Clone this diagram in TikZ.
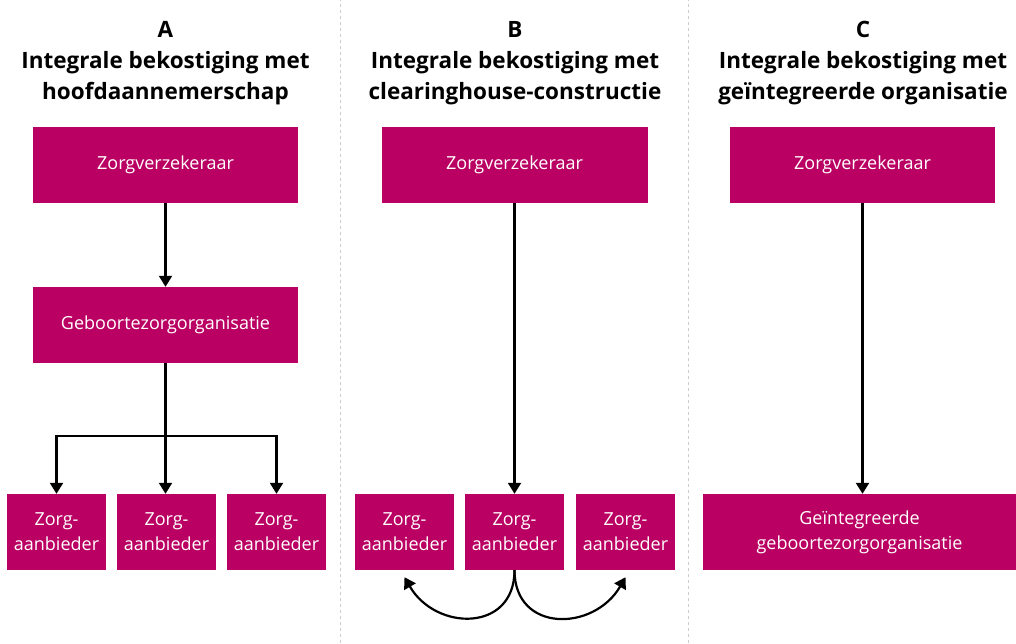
\documentclass[tikz,border=0pt]{standalone}
\usepackage{fontspec}
\setmainfont{Open Sans}
\usepackage{tikz}
\usetikzlibrary{arrows.meta}
\definecolor{zorgpaars}{RGB}{186,0,98}
\definecolor{scheiding}{RGB}{205,205,205}

\begin{document}
\begin{tikzpicture}[x=1pt,y=1pt,
        blok/.style={rectangle, fill=zorgpaars, text=white, inner sep=0pt,
            minimum height=76pt, align=center, font=\fontsize{18}{25}\selectfont},
        kop/.style={anchor=north, inner sep=0pt, align=center,
            font=\fontsize{22.5}{31}\selectfont\bfseries},
        pijl/.style={line width=2.2pt, -{Triangle[length=11pt,width=13pt]}},
        lijn/.style={line width=2.2pt}]
        \useasboundingbox (0,0) rectangle (1016,643);
        \draw[scheiding, line width=1pt, dash pattern=on 3pt off 3pt] (340,0) -- (340,643);
        \draw[scheiding, line width=1pt, dash pattern=on 3pt off 3pt] (688,0) -- (688,643);
        % A
        \node[kop] (kopA) at (165.5,622) {A\\Integrale bekostiging met\\hoofdaannemerschap};
        \node[blok, minimum width=265pt] (zvA) at (165.5,478) {Zorgverzekeraar};
        \node[blok, minimum width=265pt] (gzoA) at (165.5,318) {Geboortezorgorganisatie};
        \node[blok, minimum width=99pt] (zaA1) at (56.5,111) {Zorg-\\aanbieder};
        \node[blok, minimum width=99pt] (zaA2) at (166.5,111) {Zorg-\\aanbieder};
        \node[blok, minimum width=99pt] (zaA3) at (276.5,111) {Zorg-\\aanbieder};
        \coordinate (splitA) at (165.5,207);
        \draw[pijl] (zvA) -- (gzoA);
        \draw[lijn] (gzoA.south) -- (splitA);
        \draw[pijl] (splitA) -| (zaA1.north);
        \draw[pijl] (splitA) -| (zaA3.north);
        \draw[pijl] (splitA) -- (splitA |- zaA2.north);
        % B
        \node[kop] (kopB) at (515,622) {B\\Integrale bekostiging met\\clearinghouse-constructie};
        \node[blok, minimum width=266pt] (zvB) at (514.5,478) {Zorgverzekeraar};
        \node[blok, minimum width=99pt] (zaB1) at (404.5,111) {Zorg-\\aanbieder};
        \node[blok, minimum width=99pt] (zaB2) at (514.5,111) {Zorg-\\aanbieder};
        \node[blok, minimum width=99pt] (zaB3) at (625.5,111) {Zorg-\\aanbieder};
        \draw[pijl] (zvB.south) -- (zvB.south |- zaB2.north);
        \draw[pijl] (zaB2.south) to[out=-90, in=-60, looseness=1.45] ([yshift=-7pt]zaB1.south);
        \draw[pijl] (zaB2.south) to[out=-90, in=-120, looseness=1.45] ([yshift=-7pt]zaB3.south);
        % C
        \node[kop] (kopC) at (863,622) {C\\Integrale bekostiging met\\geïntegreerde organisatie};
        \node[blok, minimum width=265pt] (zvC) at (862.5,478) {Zorgverzekeraar};
        \node[blok, minimum width=313pt] (gzoC) at (859.5,111) {Geïntegreerde\\geboortezorgorganisatie};
        \draw[pijl] (zvC.south) -- (zvC.south |- gzoC.north);
\end{tikzpicture}
\end{document}
